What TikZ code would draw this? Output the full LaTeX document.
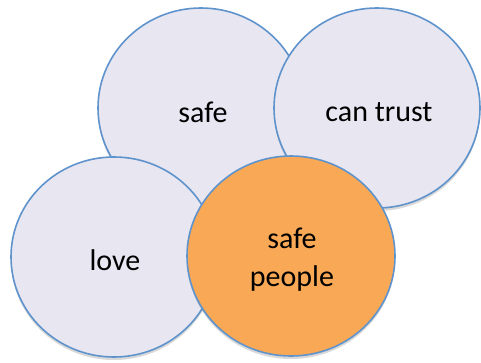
\documentclass[tikz,border=0pt]{standalone}
\usepackage{fontspec}
\setmainfont{Carlito}
\usetikzlibrary{shapes.geometric,shadows}
\definecolor{lav}{HTML}{E8E6F1}
\definecolor{edgeblue}{HTML}{5F93CC}
\definecolor{orng}{HTML}{F9A855}
\tikzset{
  bubble/.style={ellipse, draw=edgeblue, line width=1.6pt, fill=lav,
    minimum width=206pt, minimum height=200pt, inner sep=0pt,
    drop shadow={shadow xshift=0pt, shadow yshift=-3pt, opacity=0.25, fill=black!60}},
  hot/.style={bubble, fill=orng},
  word/.style={font=\fontsize{30}{38}\selectfont, align=center, inner sep=0pt}
}
\begin{document}
\begin{tikzpicture}[x=1pt,y=-1pt]
\useasboundingbox (0,0) rectangle (481,362);
\node[bubble] (safe) at (201,108) {};
\node[word] (safeT) at (203,112) {safe};
\node[bubble] (trust) at (377,108) {};
\node[word] (trustT) at (379,112) {can trust};
\node[bubble] (love) at (114,257) {};
\node[word] (loveT) at (115,260) {love};
\node[hot, minimum width=208pt] (people) at (291,256) {};
\node[word] (peopleT) at (292,260) {safe\\people};
\end{tikzpicture}
\end{document}
